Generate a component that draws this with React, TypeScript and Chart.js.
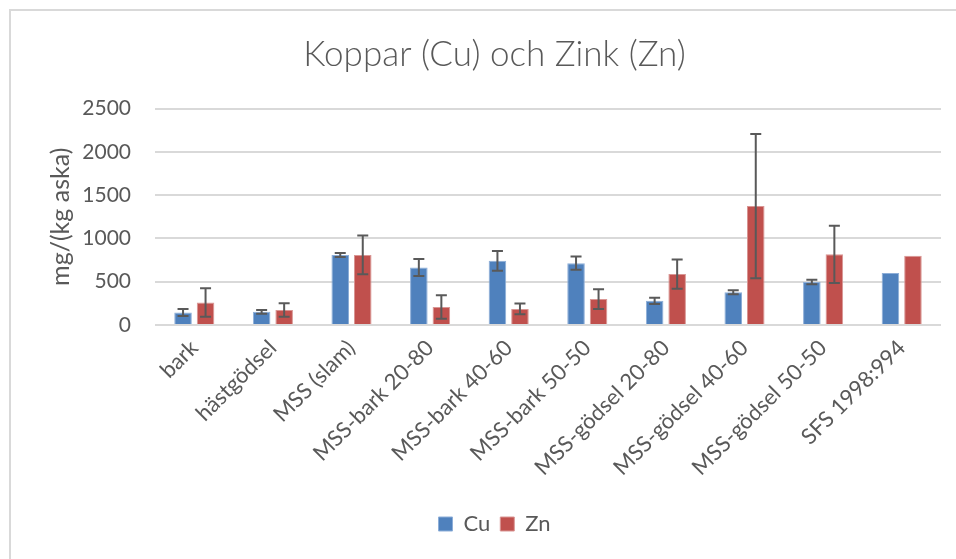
import React, { useEffect, useRef } from "react";
import { Chart, registerables } from "chart.js";

Chart.register(...registerables);

const categories = [
  "bark",
  "hästgödsel",
  "MSS (slam)",
  "MSS-bark 20-80",
  "MSS-bark 40-60",
  "MSS-bark 50-50",
  "MSS-gödsel 20-80",
  "MSS-gödsel 40-60",
  "MSS-gödsel 50-50",
  "SFS 1998:994",
];
const cuValues = [145, 152, 810, 665, 742, 714, 279, 378, 497, 600];
const cuErrors = [40, 22, 23, 98, 114, 77, 37, 24, 27, null];
const znValues = [260, 172, 810, 208, 185, 299, 588, 1374, 816, 800];
const znErrors = [165, 78, 224, 135, 62, 114, 168, 834, 330, null];
const yMin = 0;
const yMax = 2500;
const yStep = 500;

const TEXT = "#595959";
const FONT = "Lato, 'Open Sans', sans-serif";

const errorBarPlugin = {
  id: "errorBars",
  afterDatasetsDraw(chart: any) {
    const ctx = chart.ctx;
    const yScale = chart.scales.y;
    chart.data.datasets.forEach((ds: any, di: number) => {
      const meta = chart.getDatasetMeta(di);
      const errs = ds.errors as (number | null)[];
      meta.data.forEach((bar: any, i: number) => {
        const e = errs[i];
        if (e == null) return;
        const v = ds.data[i];
        const x = bar.x;
        const yTop = yScale.getPixelForValue(v + e);
        const yBot = yScale.getPixelForValue(v - e);
        const cap = 5.5;
        ctx.save();
        ctx.strokeStyle = "#595959";
        ctx.lineWidth = 2;
        ctx.beginPath();
        ctx.moveTo(x, yTop);
        ctx.lineTo(x, yBot);
        ctx.moveTo(x - cap, yTop);
        ctx.lineTo(x + cap, yTop);
        ctx.moveTo(x - cap, yBot);
        ctx.lineTo(x + cap, yBot);
        ctx.stroke();
        ctx.restore();
      });
    });
  },
};

export default function App() {
  const ref = useRef<HTMLCanvasElement | null>(null);
  useEffect(() => {
    if (!ref.current) return;
    const chart = new Chart(ref.current, {
      type: "bar",
      data: {
        labels: categories,
        datasets: [
          {
            label: "Cu",
            data: cuValues,
            errors: cuErrors,
            backgroundColor: "#4F81BD",
            borderColor: "#8DAED8",
            borderWidth: 1,
            categoryPercentage: 0.573,
            barPercentage: 0.78,
          } as any,
          {
            label: "Zn",
            data: znValues,
            errors: znErrors,
            backgroundColor: "#C0504D",
            borderColor: "#D99694",
            borderWidth: 1,
            categoryPercentage: 0.573,
            barPercentage: 0.78,
          } as any,
        ],
      },
      options: {
        responsive: false,
        animation: false,
        layout: { padding: { left: 48, right: 15, top: 0, bottom: 14 } },
        plugins: {
          title: {
            display: true,
            text: "Koppar (Cu) och Zink (Zn)",
            color: TEXT,
            font: { family: FONT, size: 35, weight: "300" as any },
            padding: { top: 34, bottom: 32.6 },
          },
          legend: {
            position: "bottom",
            labels: {
              color: TEXT,
              font: { family: FONT, size: 22 },
              boxWidth: 14,
              boxHeight: 14,
              padding: 10,
            },
          },
          tooltip: { enabled: false },
        },
        scales: {
          x: {
            grid: { display: false },
            border: { display: false },
            ticks: {
              color: TEXT,
              font: { family: FONT, size: 22 },
              minRotation: 45,
              maxRotation: 45,
              autoSkip: false,
              padding: 2,
            },
            afterFit: (s: any) => {
              s.height = 178;
            },
          },
          y: {
            min: yMin,
            max: yMax,
            ticks: {
              stepSize: yStep,
              color: TEXT,
              font: { family: FONT, size: 21 },
              padding: 24,
              callback: (v: any) => String(v),
            },
            grid: { color: "#d9d9d9", lineWidth: 2, drawTicks: false },
            border: { display: false },
            title: {
              display: true,
              text: "mg/(kg aska)",
              color: TEXT,
              font: { family: FONT, size: 25, lineHeight: 1.0 },
              padding: { top: 0, bottom: 0 },
            },
            afterFit: (s: any) => {
              s.width = 107;
            },
          },
        },
      },
      plugins: [errorBarPlugin],
    });
    return () => chart.destroy();
  }, []);

  return (
    <div
      style={{
        position: "fixed",
        left: 0,
        top: 0,
        width: 956,
        height: 559,
        overflow: "hidden",
        background: "#fff",
      }}
    >
      <canvas ref={ref} width={956} height={559} style={{ position: "absolute", left: 0, top: 0 }} />
      <div
        style={{
          position: "absolute",
          left: 9,
          top: 9,
          width: 960,
          height: 560,
          borderLeft: "2px solid #d9d9d9",
          borderTop: "2px solid #d9d9d9",
          pointerEvents: "none",
        }}
      />
    </div>
  );
}
